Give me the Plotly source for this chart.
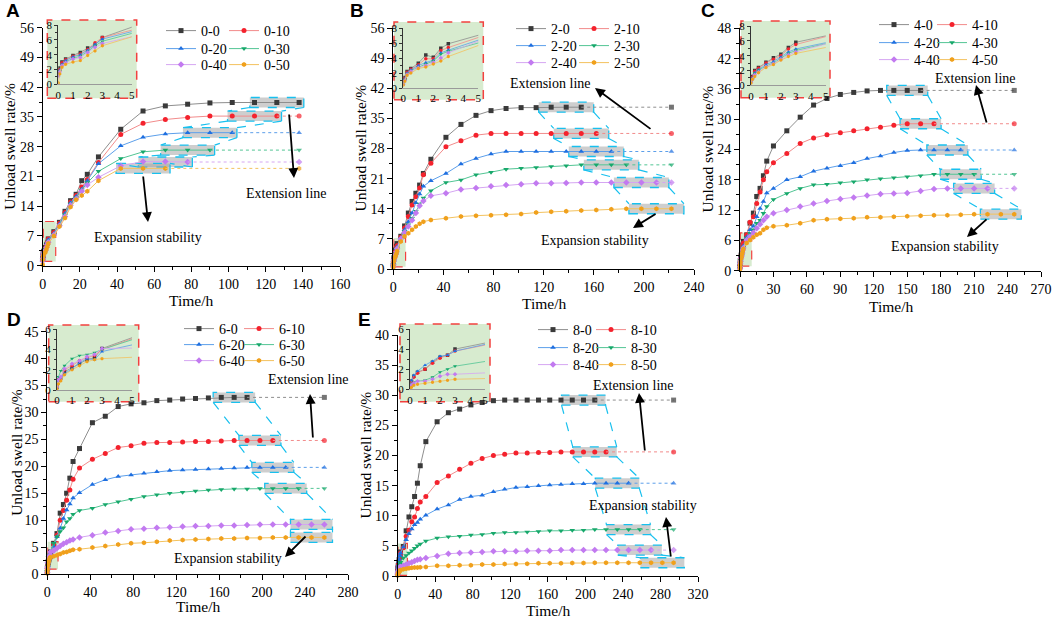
import plotly.graph_objects as go

W, H = 1052, 618
SERIF = "Liberation Serif"
SANS = "Liberation Sans"

# ---------------- data (unload swell rate, %) ----------------
time_A = [0, 0.1, 0.25, 0.5, 1, 1.5, 2, 2.5, 3, 6, 9, 12, 15, 18, 21, 24, 30,
          42, 54, 66, 78, 90, 102, 114, 126, 138]
labels_A = ["0-0", "0-10", "0-20", "0-30", "0-40", "0-50"]
A_0 = [1.5, 2.2, 3.0, 3.4, 3.9, 4.3, 4.9, 5.3, 6.3, 8.0, 10.2, 12.8, 15.3, 16.8, 20.0, 21.5, 25.6,
       32.1, 36.4, 37.6, 38.0, 38.3, 38.4, 38.4, 38.4, 38.4]
A_10 = [1.4, 2.0, 2.9, 3.3, 3.8, 4.1, 4.7, 5.6, 6.3, 7.8, 10.0, 12.5, 15.0, 16.5, 18.5, 20.3, 24.3,
        30.9, 33.5, 34.4, 34.9, 35.2, 35.2, 35.2, 35.2]
A_20 = [1.3, 1.9, 2.7, 3.2, 3.7, 4.0, 4.6, 5.4, 6.1, 7.6, 9.8, 12.3, 14.8, 16.3, 18.0, 20.0, 24.0,
        28.2, 30.2, 31.0, 31.3, 31.3, 31.3]
A_30 = [1.2, 1.8, 2.6, 3.0, 3.5, 3.8, 4.4, 5.2, 5.8, 7.4, 9.6, 12.0, 14.5, 16.0, 17.8, 19.5, 22.2,
        25.2, 26.8, 27.2, 27.2, 27.2]
A_40 = [1.1, 1.7, 2.5, 2.9, 3.4, 3.6, 4.3, 5.0, 5.5, 7.2, 9.4, 11.6, 14.2, 15.7, 17.5, 19.0, 20.8,
        23.5, 24.5, 24.5, 24.4]
A_50 = [0.2, 1.4, 2.3, 2.7, 3.0, 3.2, 3.9, 4.5, 5.2, 7.0, 9.2, 11.2, 13.8, 15.5, 16.5, 17.5, 20.0,
        22.9, 22.9, 22.9]

time_B = [0, 0.1, 0.25, 0.5, 1, 1.5, 2, 2.5, 3, 6, 9, 12, 15, 18, 21, 24, 30,
          42, 54, 66, 78, 90, 102, 114, 126, 138, 150, 162, 174, 186, 198, 210, 222]
labels_B = ["2-0", "2-10", "2-20", "2-30", "2-40", "2-50"]
B_0 = [0.9, 1.4, 2.2, 2.6, 3.3, 4.4, 4.1, 5.3, 5.9, 7.6, 10.0, 13.0, 15.7, 17.6, 19.5, 22.2, 25.5,
       30.6, 33.6, 35.7, 36.8, 37.3, 37.5, 37.5, 37.6, 37.6, 37.6]
B_10 = [0.8, 1.3, 2.1, 2.5, 3.1, 3.9, 3.9, 5.0, 5.4, 7.4, 9.5, 12.2, 14.9, 16.8, 18.8, 21.9, 24.6,
        28.4, 29.8, 31.1, 31.5, 31.5, 31.5, 31.5, 31.5, 31.5, 31.5, 31.5]
B_20 = [0.7, 1.2, 2.0, 2.4, 3.0, 3.4, 3.7, 4.7, 5.1, 7.2, 9.1, 11.0, 13.0, 15.4, 17.4, 19.2, 20.5,
        22.2, 24.4, 25.7, 26.7, 27.3, 27.3, 27.3, 27.3, 27.3, 27.3, 27.3, 27.3]
B_30 = [0.6, 1.1, 1.9, 2.3, 2.8, 3.2, 3.6, 4.5, 4.9, 7.0, 8.7, 10.3, 11.8, 13.4, 15.1, 16.5, 18.2,
        20.1, 20.7, 21.9, 22.5, 23.2, 23.4, 23.6, 23.8, 24.0, 24.2, 24.2, 24.2, 24.2]
B_40 = [0.5, 1.0, 1.8, 2.2, 2.7, 3.0, 3.4, 4.0, 4.7, 7.0, 8.5, 9.9, 11.3, 13.0, 14.7, 15.8, 17.0,
        17.6, 18.5, 18.8, 19.2, 19.5, 19.7, 19.9, 19.9, 20.0, 20.1, 20.1, 20.1, 20.1, 20.1, 20.1]
B_50 = [0.4, 0.9, 1.7, 2.0, 2.6, 2.8, 3.2, 3.6, 4.2, 6.4, 7.6, 8.3, 9.1, 9.9, 10.5, 11.0, 11.4,
        11.8, 12.2, 12.4, 12.5, 12.6, 12.8, 13.1, 13.3, 13.4, 13.6, 13.7, 13.9, 14.0, 14.0, 14.0, 14.0]

time_C = [0, 0.1, 0.25, 0.5, 1, 1.5, 2, 2.5, 3, 6, 9, 12, 15, 18, 21, 24, 30,
          42, 54, 66, 78, 90, 102, 114, 126, 138, 150, 162, 174, 186, 198, 210, 222, 234, 246]
labels_C = ["4-0", "4-10", "4-20", "4-30", "4-40", "4-50"]
C_0 = [0.8, 1.2, 2.0, 2.4, 3.1, 3.7, 4.2, 5.1, 5.8, 7.1, 9.4, 11.4, 14.7, 16.3, 18.8, 21.7, 24.7,
       27.7, 30.4, 32.8, 34.1, 34.9, 35.3, 35.6, 35.7, 35.7, 35.7, 35.7]
C_10 = [0.7, 1.1, 1.9, 2.3, 3.0, 3.5, 4.0, 4.9, 5.5, 7.1, 9.6, 10.7, 13.3, 15.6, 18.0, 19.6, 21.4,
        23.2, 25.2, 26.3, 26.9, 27.3, 27.7, 28.1, 28.4, 28.8, 29.1, 29.1, 29.1]
C_20 = [0.6, 1.0, 1.7, 2.1, 2.8, 3.2, 3.8, 4.5, 4.9, 6.6, 8.1, 8.8, 10.7, 12.3, 13.7, 15.4, 16.3,
        18.0, 18.6, 19.7, 20.3, 20.8, 21.4, 22.2, 22.7, 23.4, 23.8, 23.9, 23.9, 23.9, 23.9]
C_30 = [0.5, 0.9, 1.6, 2.0, 2.6, 3.0, 3.6, 4.3, 4.7, 6.4, 7.4, 8.1, 9.4, 10.0, 11.4, 12.7, 14.1,
        15.3, 16.3, 17.0, 17.1, 17.4, 17.6, 18.0, 18.2, 18.4, 18.6, 18.8, 19.1, 19.1, 19.1, 19.1]
C_40 = [0.4, 0.8, 1.4, 1.8, 2.5, 2.9, 3.5, 4.1, 4.5, 6.1, 6.7, 7.5, 8.4, 9.2, 10.0, 10.7, 11.4,
        12.0, 12.7, 13.3, 13.8, 14.2, 14.5, 14.9, 15.2, 15.3, 15.4, 15.8, 16.2, 16.3, 16.3, 16.3, 16.3]
C_50 = [0.3, 0.8, 1.2, 1.7, 2.4, 2.8, 3.4, 3.9, 4.3, 5.5, 6.1, 6.6, 7.1, 7.4, 8.1, 8.5, 8.8,
        9.0, 9.4, 10.0, 10.2, 10.3, 10.4, 10.6, 10.6, 10.7, 10.8, 10.9, 11.0, 11.0, 11.1, 11.2, 11.2,
        11.2, 11.2]

time_D = [0, 0.1, 0.25, 0.5, 1, 1.5, 2, 2.5, 3, 6, 9, 12, 15, 18, 21, 24, 30,
          42, 54, 66, 78, 90, 102, 114, 126, 138, 150, 162, 174, 186, 198, 210, 222, 234, 246, 258]
labels_D = ["6-0", "6-10", "6-20", "6-30", "6-40", "6-50"]
D_0 = [0.3, 1.0, 1.2, 1.8, 2.2, 2.6, 3.0, 3.2, 4.1, 5.7, 7.5, 11.3, 12.9, 15.0, 17.8, 20.9, 23.3,
       28.1, 29.3, 31.1, 31.6, 31.8, 32.2, 32.3, 32.5, 32.6, 32.7, 32.8, 32.8, 32.8]
D_10 = [0.3, 1.0, 1.1, 2.0, 2.4, 2.9, 3.2, 3.4, 4.0, 5.4, 7.2, 10.0, 11.8, 13.7, 15.6, 17.6, 19.7,
        21.3, 22.4, 23.5, 23.8, 24.3, 24.4, 24.4, 24.5, 24.6, 24.6, 24.7, 24.8, 24.8, 24.8, 24.8]
D_20 = [0.2, 0.9, 1.2, 1.6, 2.1, 2.7, 3.1, 3.0, 3.8, 5.1, 6.9, 8.5, 10.3, 11.9, 13.0, 14.1, 15.1,
        16.6, 17.5, 18.1, 18.4, 18.7, 19.0, 19.2, 19.3, 19.4, 19.5, 19.6, 19.7, 19.8, 19.8, 19.8, 19.8]
D_30 = [0.4, 1.3, 1.9, 2.4, 3.1, 3.4, 3.5, 3.7, 4.0, 5.7, 6.9, 7.9, 8.6, 9.7, 10.3, 11.1, 11.8,
        12.2, 12.9, 13.4, 13.9, 14.4, 14.7, 15.0, 15.2, 15.4, 15.6, 15.7, 15.8, 15.8, 15.9, 15.9,
        15.9, 15.9]
D_40 = [0.3, 1.0, 1.3, 2.1, 2.6, 2.9, 3.3, 3.5, 4.1, 4.3, 4.8, 5.2, 5.6, 5.9, 6.2, 6.4, 6.8,
        7.2, 7.7, 8.0, 8.3, 8.4, 8.6, 8.7, 8.8, 8.9, 8.9, 9.0, 9.0, 9.1, 9.2, 9.2, 9.2, 9.2, 9.2, 9.2]
D_50 = [0.1, 0.6, 0.9, 1.5, 2.0, 2.4, 2.8, 3.0, 3.1, 3.3, 3.5, 3.7, 4.0, 4.1, 4.3, 4.5, 4.6,
        4.9, 5.2, 5.5, 5.7, 5.8, 6.0, 6.2, 6.3, 6.4, 6.5, 6.6, 6.6, 6.7, 6.7, 6.8, 6.8, 6.8, 6.8, 6.8]

time_E = [0, 0.1, 0.25, 0.5, 1, 1.5, 2, 2.5, 3, 6, 9, 12, 15, 18, 21, 24, 30,
          42, 54, 66, 78, 90, 102, 114, 126, 138, 150, 162, 174, 186, 198, 210, 222, 234, 246,
          258, 270, 282, 294]
labels_E = ["8-0", "8-10", "8-20", "8-30", "8-40", "8-50"]
E_0 = [0.3, 0.8, 1.3, 1.7, 2.0, 2.7, 3.2, 3.4, 4.0, 4.9, 7.5, 9.8, 11.5, 13.2, 15.4, 18.3, 22.3,
       25.6, 27.1, 27.7, 28.4, 28.8, 29.1, 29.2, 29.2, 29.2, 29.2, 29.2, 29.2, 29.2, 29.2, 29.2]
E_10 = [0.3, 0.8, 1.2, 1.6, 2.0, 2.6, 3.1, 3.4, 3.8, 4.7, 6.6, 7.6, 9.0, 9.8, 11.2, 12.3, 13.2,
        15.5, 16.6, 17.7, 18.7, 19.5, 20.0, 20.2, 20.4, 20.4, 20.5, 20.5, 20.6, 20.6, 20.6, 20.6, 20.6]
E_20 = [0.4, 0.9, 1.4, 1.8, 2.4, 2.8, 3.3, 3.4, 3.8, 4.8, 6.0, 7.0, 7.8, 8.5, 8.9, 9.4, 10.1,
        11.1, 11.8, 12.7, 13.2, 13.4, 14.0, 14.4, 14.7, 14.8, 15.0, 15.1, 15.2, 15.3, 15.3, 15.4,
        15.4, 15.4, 15.4]
E_30 = [0.2, 0.5, 0.7, 0.8, 0.9, 1.2, 1.7, 2.0, 2.3, 3.0, 3.4, 3.8, 4.2, 4.6, 5.0, 5.3, 5.8,
        6.3, 6.5, 6.6, 6.8, 6.9, 7.1, 7.2, 7.2, 7.3, 7.4, 7.5, 7.5, 7.6, 7.6, 7.7, 7.7, 7.7, 7.7, 7.7]
E_40 = [0.2, 0.4, 0.6, 0.8, 0.8, 1.0, 1.3, 1.5, 1.5, 1.7, 1.9, 2.1, 2.3, 2.5, 2.7, 2.8, 3.0,
        3.3, 3.7, 3.8, 3.9, 4.0, 4.1, 4.1, 4.1, 4.2, 4.2, 4.2, 4.3, 4.3, 4.3, 4.3, 4.3, 4.3, 4.3,
        4.3, 4.3]
E_50 = [0.1, 0.2, 0.4, 0.5, 0.6, 0.7, 0.8, 0.9, 1.0, 1.1, 1.2, 1.3, 1.35, 1.4, 1.4, 1.45, 1.5,
        1.7, 1.7, 1.8, 1.8, 1.9, 1.9, 2.0, 2.0, 2.05, 2.1, 2.1, 2.1, 2.15, 2.15, 2.2, 2.2, 2.2, 2.2,
        2.2, 2.2, 2.2, 2.2]

# ---------------- styles ----------------
marker_colors = ["#3a3a3a", "#f4222d", "#1f6fe0", "#17a86b", "#c27af0", "#f0a01c"]
line_colors = ["#8e8e8e", "#f28b8b", "#5c9fea", "#52c594", "#d5a6f2", "#f3c25e"]
symbols = ["square", "circle", "triangle-up", "triangle-down", "diamond", "hexagon"]
CYAN = "#18c0ee"
GREEN_BG = "#d7ebcf"
RED_DASH = "#f2413f"

# layout of each panel, in screen pixels (x from left, y from top)
# leg = (text x of left column, text x of right column, row1 y, row2 y, row3 y)
panels = [
    dict(letter="A", letter_at=(13, 11), times=time_A, labels=labels_A,
         series=[A_0, A_10, A_20, A_30, A_40, A_50], t_end=138,
         px=(42.7, 340), py=(27.7, 265.7), xmax=160, xstep=20, ymax=56, ystep=7,
         ipx=(58.3, 131.7), ipy=(25, 84.3), ibox=(47.3, 20, 136.7, 98.3), iymax=8,
         zoom=(0.3, 1.0, 7, 10.4), box_w=54,
         ytitle_x=10, xtitle_y=301, leg=(200, 263, 34, 52, 68),
         arrows=[(148, 222, 143, 175), (294, 178, 289, 113)],
         notes=[("Expansion stability", 148, 237), ("Extension line", 286, 193)]),
    dict(letter="B", letter_at=(357, 11), times=time_B, labels=labels_B,
         series=[B_0, B_10, B_20, B_30, B_40, B_50], t_end=222,
         px=(393.3, 694), py=(28, 269), xmax=240, xstep=40, ymax=56, ystep=7,
         ipx=(403.3, 478.3), ipy=(28, 88), ibox=(394, 22, 483.3, 99.7), iymax=8,
         zoom=(0.3, 0.5, 9.8, 7.2), box_w=55,
         ytitle_x=360, xtitle_y=304, leg=(550, 613, 32, 49, 66),
         arrows=[(595, 88, 652, 130), (633, 228, 657, 213)],
         notes=[("Extension line", 550, 83), ("Expansion stability", 595, 240)]),
    dict(letter="C", letter_at=(708, 11), times=time_C, labels=labels_C,
         series=[C_0, C_10, C_20, C_30, C_40, C_50], t_end=246,
         px=(740, 1041), py=(28.3, 270.7), xmax=270, xstep=30, ymax=48, ystep=6,
         ipx=(751, 825.7), ipy=(26, 85.3), ibox=(741, 21, 830, 97.7), iymax=8,
         zoom=(0.3, 0.9, 10.5, 7.5), box_w=41,
         ytitle_x=707, xtitle_y=306, leg=(913, 971, 28, 46, 63),
         arrows=[(976, 85, 987, 124), (967, 237, 988, 218)],
         notes=[("Extension line", 975, 79), ("Expansion stability", 945, 247)]),
    dict(letter="D", letter_at=(14, 319), times=time_D, labels=labels_D,
         series=[D_0, D_10, D_20, D_30, D_40, D_50], t_end=258,
         px=(47.3, 348), py=(331.7, 574), xmax=280, xstep=40, ymax=45, ystep=5,
         ipx=(57, 132), ipy=(329.3, 390), ibox=(48.7, 325, 138.7, 401.7), iymax=6,
         zoom=(0.3, 0.9, 10, 6), box_w=42,
         ytitle_x=17, xtitle_y=606, leg=(218, 278, 332, 348, 364),
         arrows=[(310, 394, 313, 439), (285, 557, 307, 535)],
         notes=[("Extension line", 308, 379), ("Expansion stability", 228, 558)]),
    dict(letter="E", letter_at=(364, 319), times=time_E, labels=labels_E,
         series=[E_0, E_10, E_20, E_30, E_40, E_50], t_end=294,
         px=(397.7, 698), py=(335, 576), xmax=320, xstep=40, ymax=40, ystep=5,
         ipx=(410, 485), ipy=(329, 389.3), ibox=(400, 324, 490, 401.7), iymax=6,
         zoom=(0.3, 0.1, 10.3, 5.4), box_w=44,
         ytitle_x=365, xtitle_y=610, leg=(572, 630, 333, 351, 368),
         arrows=[(639, 393, 645, 452), (666, 517, 671, 558)],
         notes=[("Extension line", 633, 385), ("Expansion stability", 643, 505)]),
]


def fx(p):
    return p / W


def fy(p):
    return 1 - p / H


def sfx(n):
    return "" if n == 1 else str(n)


def label(text, x, y, font, **kw):
    return dict(text=text, x=fx(x), y=fy(y), xref="paper", yref="paper", showarrow=False,
                xanchor="center", yanchor="middle", font=font, **kw)


fig = go.Figure()
shapes = []
annotations = []
layout = {}

for i, p in enumerate(panels):
    m = i + 1          # main axes number
    k = i + 6          # inset axes number
    xm, ym = "x" + sfx(m), "y" + sfx(m)
    xk, yk = "x" + sfx(k), "y" + sfx(k)
    times = p["times"]

    tick_font = dict(family=SERIF, size=14, color="black")
    layout["xaxis" + sfx(m)] = dict(
        domain=[fx(p["px"][0]), fx(p["px"][1])], range=[0, p["xmax"]], anchor=ym,
        tick0=0, dtick=p["xstep"], showline=True, linecolor="black", linewidth=1,
        ticks="outside", ticklen=5, tickcolor="black", automargin=False,
        minor=dict(ticks="outside", ticklen=3, dtick=p["xstep"] / 2, tickcolor="black"),
        showgrid=False, zeroline=False, tickfont=tick_font)
    layout["yaxis" + sfx(m)] = dict(
        domain=[fy(p["py"][1]), fy(p["py"][0])], range=[0, p["ymax"]], anchor=xm,
        tick0=0, dtick=p["ystep"], showline=True, linecolor="black", linewidth=1,
        ticks="outside", ticklen=5, tickcolor="black", automargin=False,
        minor=dict(ticks="outside", ticklen=3, dtick=p["ystep"] / 2, tickcolor="black"),
        showgrid=False, zeroline=False, tickfont=tick_font)
    inset_font = dict(family=SERIF, size=11, color="black")
    layout["xaxis" + sfx(k)] = dict(
        domain=[fx(p["ipx"][0]), fx(p["ipx"][1])], range=[0, 5], anchor=yk,
        dtick=1, showline=True, linecolor="#9a9a9a", linewidth=1, ticks="", automargin=False,
        showgrid=False, zeroline=False, tickfont=inset_font)
    layout["yaxis" + sfx(k)] = dict(
        domain=[fy(p["ipy"][1]), fy(p["ipy"][0])], range=[0, p["iymax"]], anchor=xk,
        dtick=2, showline=True, linecolor="#333333", linewidth=1, automargin=False,
        ticks="outside", ticklen=3, tickcolor="#333333",
        minor=dict(ticks="outside", ticklen=2, dtick=1, tickcolor="#333333"),
        showgrid=False, zeroline=False, tickfont=inset_font)

    # inset background box
    bx0, by0, bx1, by1 = p["ibox"]
    shapes.append(dict(type="rect", xref="paper", yref="paper", x0=fx(bx0), x1=fx(bx1),
                       y0=fy(by1), y1=fy(by0), fillcolor=GREEN_BG, layer="below",
                       line=dict(color=RED_DASH, width=1.5, dash="dash")))
    # zoomed region near origin
    zx0, zy0, zx1, zy1 = p["zoom"]
    shapes.append(dict(type="rect", xref=xm, yref=ym, x0=zx0, x1=zx1, y0=zy0, y1=zy1,
                       fillcolor=GREEN_BG, layer="below",
                       line=dict(color=RED_DASH, width=1.2, dash="dash")))

    sx = (p["px"][1] - p["px"][0]) / p["xmax"]
    sy = (p["py"][1] - p["py"][0]) / p["ymax"]
    hw = p["box_w"] / 2 / sx
    hh = 5 / sy
    boxes = []

    for j, vals in enumerate(p["series"]):
        n = len(vals)
        tt = times[:n]
        # one small legend per entry: 2 columns x 3 rows
        leg = "legend" + sfx(6 * i + j + 1)
        layout[leg] = dict(x=fx(p["leg"][j % 2] - 39), y=fy(p["leg"][2 + j // 2] - 3),
                           xanchor="left", yanchor="middle", bgcolor="rgba(0,0,0,0)",
                           borderwidth=0, itemwidth=30,
                           font=dict(family=SERIF, size=14, color="black"))
        fig.add_trace(go.Scatter(
            x=tt, y=vals, mode="lines+markers", name=p["labels"][j], legend=leg,
            xaxis=xm, yaxis=ym, cliponaxis=False,
            line=dict(color=line_colors[j], width=1),
            marker=dict(symbol=symbols[j], size=5, color=marker_colors[j], line=dict(width=0))))
        if tt[-1] < p["t_end"]:
            fig.add_trace(go.Scatter(
                x=[tt[-1], p["t_end"]], y=[vals[-1], vals[-1]], mode="lines+markers",
                showlegend=False, xaxis=xm, yaxis=ym, cliponaxis=False,
                line=dict(color=line_colors[j], width=1, dash="dot"),
                marker=dict(symbol=symbols[j], size=[0, 5], color=marker_colors[j],
                            line=dict(width=0))))
        fig.add_trace(go.Scatter(
            x=tt, y=vals, mode="lines+markers", showlegend=False, xaxis=xk, yaxis=yk,
            line=dict(color=line_colors[j], width=0.8),
            marker=dict(symbol=symbols[j], size=3.5, color=marker_colors[j], line=dict(width=0))))

        tc = (tt[-3] + tt[-1]) / 2
        boxes.append((tc - hw, vals[-1] - hh, tc + hw, vals[-1] + hh))

    for (x0, y0, x1, y1) in boxes:
        shapes.append(dict(type="rect", xref=xm, yref=ym, x0=x0, x1=x1, y0=y0, y1=y1,
                           fillcolor="rgba(165,165,165,0.55)", layer="below",
                           line=dict(color=CYAN, width=1.3, dash="dash")))
    for a, b in zip(boxes[:-1], boxes[1:]):
        for xa, xb in ((a[0], b[0]), (a[2], b[2])):
            shapes.append(dict(type="line", xref=xm, yref=ym, x0=xa, y0=a[1], x1=xb, y1=b[3],
                               line=dict(color=CYAN, width=1.2, dash="dash")))

    # text
    annotations.append(label("<b>%s</b>" % p["letter"], *p["letter_at"],
                             font=dict(family=SANS, size=19, color="black")))
    annotations.append(label("Unload swell rate/%", p["ytitle_x"], (p["py"][0] + p["py"][1]) / 2,
                             font=dict(family=SERIF, size=15.5, color="black"), textangle=-90))
    annotations.append(label("Time/h", (p["px"][0] + p["px"][1]) / 2, p["xtitle_y"],
                             font=dict(family=SERIF, size=15.5, color="black")))
    for (hx, hy, tx, ty) in p["arrows"]:
        annotations.append(dict(text="", x=fx(hx), y=fy(hy), xref="paper", yref="paper",
                                ax=tx - hx, ay=ty - hy, showarrow=True, arrowhead=2,
                                arrowsize=1.1, arrowwidth=1.8, arrowcolor="black"))
    for (txt, nx, ny) in p["notes"]:
        annotations.append(label(txt, nx, ny, font=dict(family=SERIF, size=14, color="black")))

fig.update_layout(**layout)
fig.update_layout(width=W, height=H,
                  margin=dict(l=0, r=0, t=0, b=0, autoexpand=False),
                  paper_bgcolor="white", plot_bgcolor="rgba(0,0,0,0)",
                  shapes=shapes, annotations=annotations, showlegend=True)

# the page body has a default 8 px margin; drop it so the figure fills the window
fig.write_html("out.html", config={"displayModeBar": False},
               post_script="document.body.style.margin = '0px';")
